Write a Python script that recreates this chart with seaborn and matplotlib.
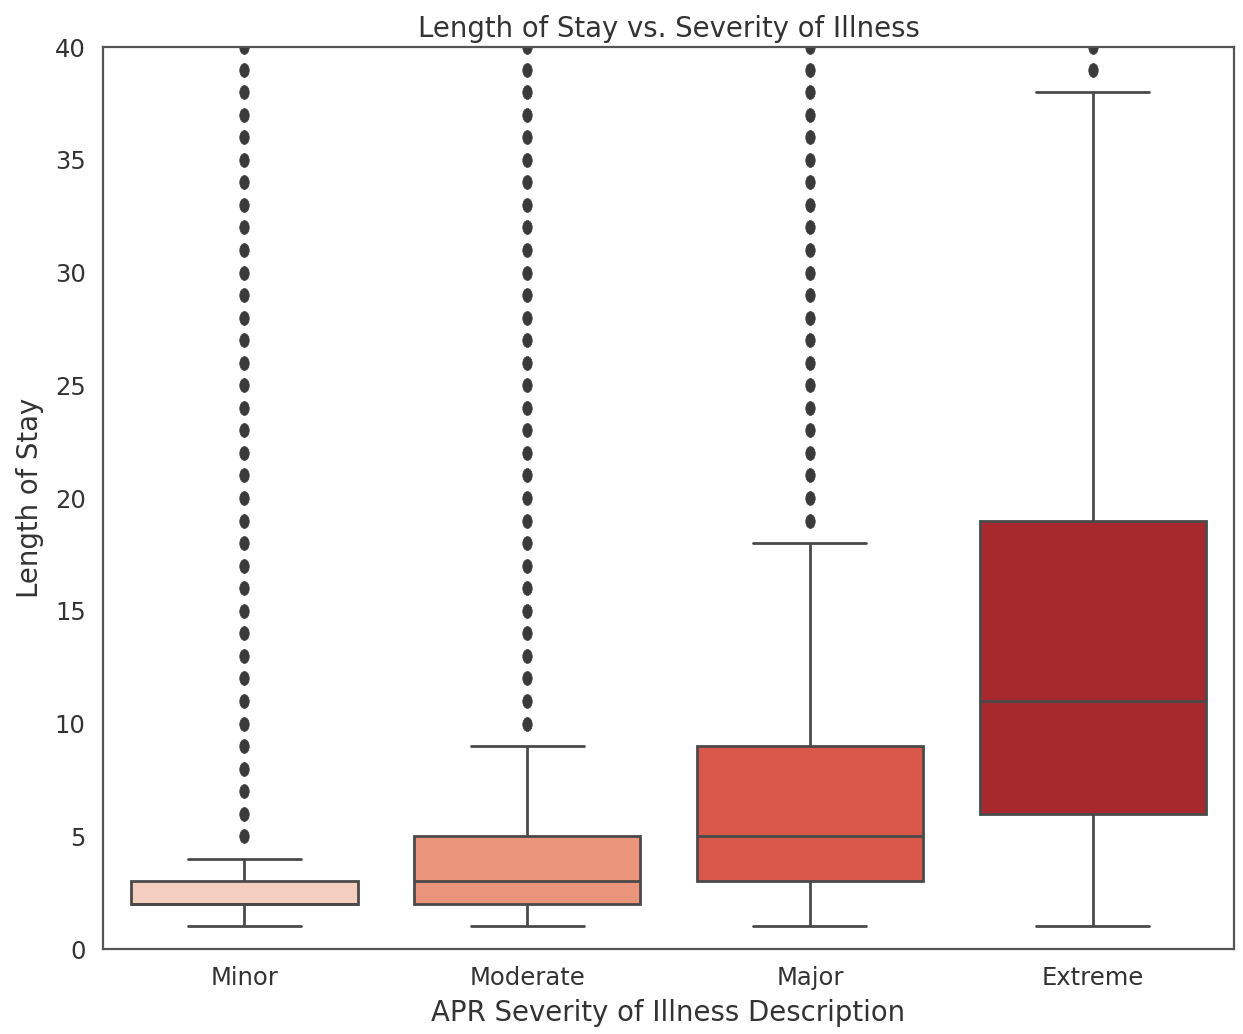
import numpy as np
import pandas as pd
import matplotlib
matplotlib.use("Agg")
import matplotlib.pyplot as plt
from matplotlib.path import Path
import seaborn as sns

# Severity categories, in display order
categories = ["Minor", "Moderate", "Major", "Extreme"]

# Length-of-stay values (days) and how many stays have each value
minor_values = [1, 2, 3, 4]
minor_counts = [150, 450, 300, 60]
minor_outliers = list(range(5, 61))

moderate_values = [1, 2, 3, 4, 5, 6, 7, 8, 9]
moderate_counts = [100, 250, 250, 150, 150, 60, 40, 30, 20]
moderate_outliers = list(range(10, 61))

major_values = [1, 2, 3, 4, 5, 6, 7, 8, 9, 10, 11, 12, 13, 14, 15, 16, 17, 18]
major_counts = [50, 100, 150, 150, 120, 100, 80, 50, 80, 40, 30, 25, 20, 15, 12, 10, 8, 6]
major_outliers = list(range(19, 61))

extreme_values = [1, 2, 3, 4, 5, 6, 7, 8, 9, 10, 11, 12, 13, 14, 15, 16, 17, 18, 19,
                  20, 21, 22, 23, 24, 25, 26, 27, 28, 29, 30, 31, 32, 33, 34, 35, 36, 37, 38]
extreme_counts = [20, 25, 30, 40, 45, 60, 35, 35, 30, 30, 30, 25, 25, 25, 20, 20, 20, 20, 30,
                  15, 15, 12, 12, 10, 10, 8, 8, 7, 6, 6, 5, 5, 4, 4, 3, 3, 3, 3]
extreme_outliers = list(range(39, 61))

groups = {
    "Minor": (minor_values, minor_counts, minor_outliers),
    "Moderate": (moderate_values, moderate_counts, moderate_outliers),
    "Major": (major_values, major_counts, major_outliers),
    "Extreme": (extreme_values, extreme_counts, extreme_outliers),
}

frames = []
for name in categories:
    vals, cnts, outs = groups[name]
    los = np.concatenate([np.repeat(vals, cnts), np.array(outs)])
    frames.append(pd.DataFrame({"APR Severity of Illness Description": name,
                                "Length of Stay": los}))
df = pd.concat(frames, ignore_index=True)

# Tall, narrow oval used for the outlier markers
circle = Path.unit_circle()
oval = Path(circle.vertices * np.array([0.68, 1.0]), circle.codes)

sns.set_style("white")
plt.rcParams["font.family"] = ["DejaVu Sans"]

fig = plt.figure(figsize=(12.43, 10.34), dpi=100)
ax = fig.add_axes([0.0829, 0.0822, 0.9099, 0.8723])

line_color = "#4a4a4a"
sns.boxplot(
    data=df,
    x="APR Severity of Illness Description",
    y="Length of Stay",
    hue="APR Severity of Illness Description",
    order=categories,
    hue_order=categories,
    palette="Reds",
    saturation=0.75,
    width=0.8,
    linewidth=2.0,
    linecolor=line_color,
    legend=False,
    flierprops=dict(marker=oval, markersize=10, markerfacecolor="#3a3a3a",
                    markeredgecolor="#3a3a3a", markeredgewidth=0.5),
    ax=ax,
)

ax.set_ylim(0, 40)
ax.set_yticks(np.arange(0, 41, 5))
ax.set_title("Length of Stay vs. Severity of Illness", fontsize=19.8, color="#333333", pad=7)
ax.set_xlabel("APR Severity of Illness Description", fontsize=19.8, color="#333333", labelpad=6)
ax.set_ylabel("Length of Stay", fontsize=19.8, color="#333333", labelpad=8)
ax.tick_params(axis="both", labelsize=17.5, colors="#333333", pad=9)
for sp in ax.spines.values():
    sp.set_color("#555555")
    sp.set_linewidth(1.6)

fig.savefig("out.png", dpi=100)
